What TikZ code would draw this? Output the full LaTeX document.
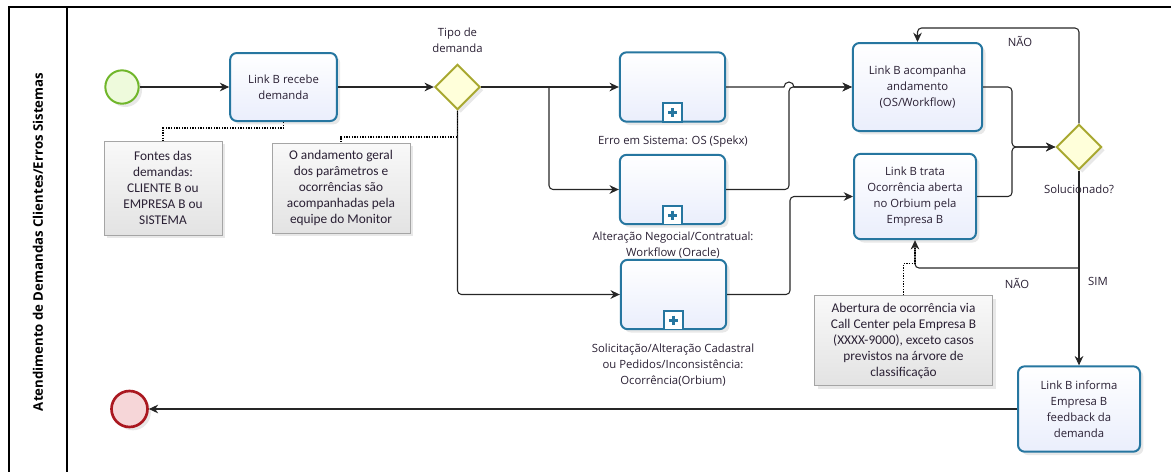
\documentclass[tikz,border=0pt]{standalone}
\usepackage{fontspec}
\setmainfont{Open Sans}
\newfontfamily\notefont{Carlito}
\usetikzlibrary{arrows.meta, positioning, shapes.geometric, shadows, calc}

\definecolor{taskline}{RGB}{38,118,160}
\definecolor{taskfill}{RGB}{234,238,252}
\definecolor{gateline}{RGB}{168,168,48}
\definecolor{gatefill}{RGB}{255,255,218}
\definecolor{startline}{RGB}{112,182,42}
\definecolor{startfill}{RGB}{238,250,220}
\definecolor{endline}{RGB}{170,24,32}
\definecolor{endfill}{RGB}{246,214,216}
\definecolor{noteline}{RGB}{165,165,165}
\definecolor{txt}{RGB}{42,32,52}

\tikzset{
  shade/.style={drop shadow={shadow xshift=2.5pt, shadow yshift=-2.5pt, opacity=0.18}},
  task/.style={draw=taskline, line width=1.5pt, rounded corners=5pt, top color=white,
    bottom color=taskfill, align=center, text=txt, shade,
    font=\fontsize{8.5}{12}\selectfont},
  gate/.style={diamond, aspect=1, draw=gateline, line width=1.5pt, fill=gatefill,
    minimum width=34pt, minimum height=34pt, inner sep=0pt, shade},
  marker/.style={draw=taskline, line width=1.2pt, fill=white, minimum size=14pt,
    inner sep=0pt, anchor=south},
  note/.style={draw=noteline, line width=0.6pt, top color=gray!5, bottom color=gray!22,
    align=center, text=txt, shade, font=\notefont\fontsize{10}{12}\selectfont},
  lbl/.style={align=center, text=txt, font=\fontsize{8.5}{12}\selectfont},
  flow/.style={draw=black!85, line width=0.8pt, rounded corners=3pt,
    -{Stealth[length=7pt, width=6.5pt]}},
  assoc/.style={draw=black, line width=1.3pt, dash pattern=on 1pt off 1pt}
}

\begin{document}
\begin{tikzpicture}[x=0.75pt, y=-0.75pt]
  \useasboundingbox (0,0) rectangle (1171,472);

  % Lane frame and title
  \draw[line width=1.1pt] (1171,7) -- (9,7) -- (9,472);
  \draw[line width=1.1pt] (67,7) -- (67,472);
  \node[rotate=90, font=\bfseries\fontsize{9.9}{12}\selectfont] (lane) at (38,242)
    {Atendimento de Demandas Clientes/Erros Sistemas};

  % Events
  \node[circle, draw=startline, line width=1.5pt, fill=startfill, minimum size=25pt, shade]
    (start) at (122,87) {};
  \node[circle, draw=endline, line width=2pt, fill=endfill, minimum size=27pt, shade]
    (end) at (129.5,409) {};

  % Tasks
  \node[task, minimum width=80pt, minimum height=51pt] (recebe) at (283.5,87)
    {Link B recebe\\demanda};
  \node[task, minimum width=97pt, minimum height=66pt] (acompanha) at (917.5,87)
    {Link B acompanha\\andamento\\(OS/Workflow)};
  \node[task, minimum width=91.5pt, minimum height=64pt] (trata) at (915,196.5)
    {Link B trata\\Ocorrência aberta\\no Orbium pela\\Empresa B};
  \node[task, minimum width=91.5pt, minimum height=64pt] (informa) at (1079,409)
    {Link B informa\\Empresa B\\feedback da\\demanda};

  % Sub-processes
  \node[task, minimum width=79pt, minimum height=52pt] (sub1) at (672.5,87) {};
  \node[task, minimum width=79pt, minimum height=52pt] (sub2) at (672.5,189.5) {};
  \node[task, minimum width=79pt, minimum height=52pt] (sub3) at (673.5,294.5) {};
  \foreach \s in {sub1,sub2,sub3} {
    \node[marker] (\s-m) at (\s.south) {};
    \draw[taskline, line width=2.2pt] ($(\s-m.center)+(-4.5,0)$) -- ($(\s-m.center)+(4.5,0)$);
    \draw[taskline, line width=2.2pt] ($(\s-m.center)+(0,-4.5)$) -- ($(\s-m.center)+(0,4.5)$);
  }
  \node[lbl] (sub1-lbl) at (673,142) {Erro em Sistema: OS (Spekx)};
  \node[lbl] (sub2-lbl) at (673,245) {Alteração Negocial/Contratual:\\Workflow (Oracle)};
  \node[lbl] (sub3-lbl) at (673,365)
    {Solicitação/Alteração Cadastral\\ou Pedidos/Inconsistência:\\Ocorrência(Orbium)};

  % Gateways
  \node[gate] (tipo) at (457.5,87) {};
  \node[lbl] (tipo-lbl) at (457.5,40) {Tipo de\\demanda};
  \node[gate] (solucionado) at (1079,147) {};
  \node[lbl] (sol-lbl) at (1079,189) {Solucionado?};

  % Annotations
  \node[note, minimum width=88.5pt, minimum height=70.5pt] (ann1) at (163,188)
    {Fontes das\\demandas:\\CLIENTE B ou\\EMPRESA B ou\\SISTEMA};
  \node[note, minimum width=103.5pt, minimum height=67.5pt] (ann2) at (341,188)
    {O andamento geral\\dos parâmetros e\\ocorrências são\\acompanhadas pela\\equipe do Monitor};
  \node[note, minimum width=134pt, minimum height=67pt] (ann3) at (903.5,340.5)
    {Abertura de ocorrência via\\Call Center pela Empresa B\\(XXXX-9000), exceto casos\\previstos na árvore de\\classificação};

  % Sequence flows
  \coordinate (fork) at (549,87);
  \coordinate (jmp) at (789,87);
  \coordinate (bend3) at (790,294.5);
  \coordinate (merge) at (1012,147);
  \coordinate (looptop) at (1079,28);
  \coordinate (split) at (1079,268);

  \draw[flow] (start) -- (recebe);
  \draw[flow] (recebe) -- (tipo);
  \draw[flow] (tipo) -- (sub1);
  \draw[flow] (fork) |- (sub2);
  \draw[flow] (tipo) |- (sub3);
  \draw[flow] (sub2) -| (jmp) -- (acompanha);
  \draw[flow, sharp corners] (sub1) -- ($(jmp)+(-5,0)$)
    arc[start angle=180, end angle=0, radius=3.75pt] -- (acompanha);
  \draw[flow] (sub3) -- (bend3) |- (trata);
  \draw[flow] (acompanha) -| (merge) -- (solucionado);
  \draw[flow] (trata) -| (merge) -- (solucionado);
  \draw[flow] (solucionado) -- (looptop) -| (acompanha);
  \draw[flow] (solucionado) -- (informa);
  \draw[flow] (split) -| (trata);
  \draw[flow] (informa) -- (end);

  \node[lbl] (nao1) at (1020,41) {NÃO};
  \node[lbl] (nao2) at (1017,283) {NÃO};
  \node[lbl] (sim) at (1098,281) {SIM};

  % Associations
  \draw[assoc] (recebe.south) -- ++(0,6) -| (ann1);
  \draw[assoc] (tipo.south) -- ++(0,26) -| (ann2);
  \draw[assoc, shorten >=6pt] (ann3.north) -- ++(0,-32) -| (trata.south);

\end{tikzpicture}
\end{document}
